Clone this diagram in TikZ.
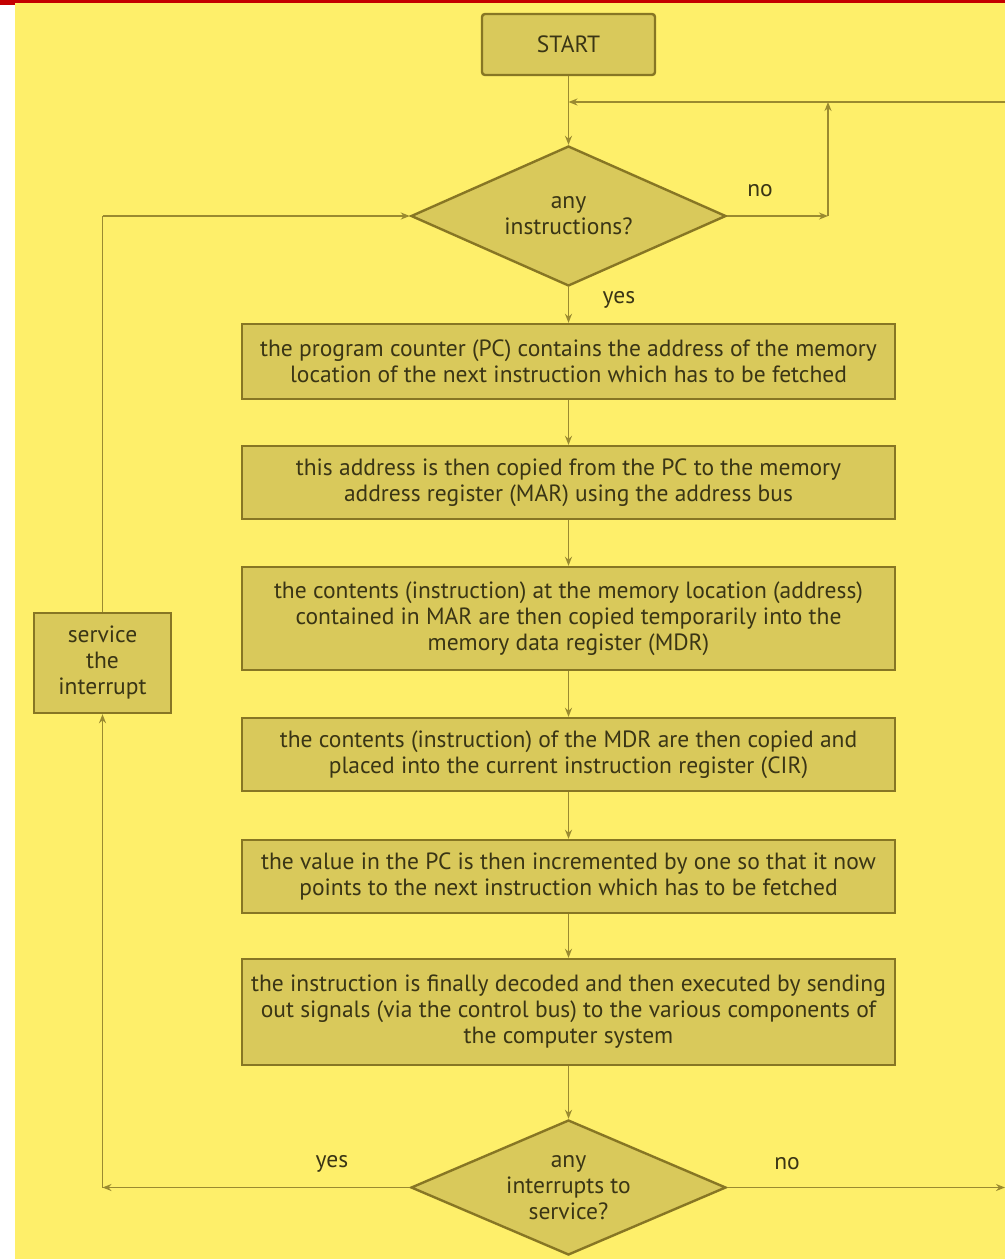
\documentclass[tikz,border=0pt]{standalone}
\usepackage{fontspec}
\setmainfont{PT Sans}
\usetikzlibrary{shapes.geometric,arrows.meta}

\definecolor{bgyellow}{HTML}{FEEF6A}
\definecolor{topred}{HTML}{C40000}
\definecolor{boxfill}{HTML}{D9C95B}
\definecolor{boxline}{HTML}{877624}
\definecolor{flowline}{HTML}{9A8A30}
\definecolor{ink}{HTML}{3A3515}

\tikzset{
  textfont/.style={text=ink, font=\fontsize{23.5}{26}\selectfont},
  stepbox/.style={draw=boxline, fill=boxfill, line width=2.4pt, rectangle,
    minimum width=653pt, inner sep=0pt, align=center, textfont},
  % the diamond itself is drawn empty at a fixed size; its question is a centred label
  decision/.style={draw=boxline, fill=boxfill, line width=2.4pt, diamond,
    minimum width=315pt, inner sep=0pt,
    label={[align=center, textfont, inner sep=0pt]center:#1}},
  flow/.style={draw=flowline, line width=1.6pt,
    -{Stealth[length=9pt,width=7pt]}},
  plainflow/.style={draw=flowline, line width=1.6pt},
  branchlabel/.style={textfont, inner sep=0pt}
}

\begin{document}
\begin{tikzpicture}[x=1pt,y=-1pt]
  % page and backdrop
  \useasboundingbox (0,0) rectangle (1005,1259);
  \fill[white] (0,0) rectangle (1005,1259);
  \fill[bgyellow] (15,3) rectangle (1005,1259);
  \fill[topred] (0,0) rectangle (1005,3);
  \fill[topred] (0,0) rectangle (15,4.5);

  % nodes
  \node[stepbox, minimum width=173pt, minimum height=61pt, rounded corners=3pt]
    (start) at (568.5,44.5) {START};
  \node[decision={any\\instructions?}, minimum height=140pt] (anyinstr) at (568.5,216) {};
  \node[stepbox, minimum height=75pt] (pc) at (568.5,361.5)
    {the program counter (PC) contains the address of the memory\\location of the next instruction which has to be fetched};
  \node[stepbox, minimum height=73pt] (mar) at (568.5,482.5)
    {this address is then copied from the PC to the memory\\address register (MAR) using the address bus};
  \node[stepbox, minimum height=103pt] (mdr) at (568.5,618.5)
    {the contents (instruction) at the memory location (address)\\contained in MAR are then copied temporarily into the\\memory data register (MDR)};
  \node[stepbox, minimum height=73pt] (cir) at (568.5,754.5)
    {the contents (instruction) of the MDR are then copied and\\placed into the current instruction register (CIR)};
  \node[stepbox, minimum height=73pt] (inc) at (568.5,876.5)
    {the value in the PC is then incremented by one so that it now\\points to the next instruction which has to be fetched};
  \node[stepbox, minimum height=106pt] (exec) at (568.5,1012)
    {the instruction is finally decoded and then executed by sending\\out signals (via the control bus) to the various components of\\the computer system};
  \node[decision={any\\interrupts to\\service?}, minimum height=135pt] (anyint) at (568.5,1187.5) {};
  \node[stepbox, minimum width=137pt, minimum height=100pt] (service) at (102.5,663)
    {service\\the\\interrupt};

  % helper points for the loops
  \coordinate (edgein) at (1005,102);
  \coordinate (merge) at (568.5,102);
  \coordinate (nocorner) at (828,216);
  \coordinate (nojoin) at (828,102);
  \coordinate (edgeout) at (1005,1187.5);
  \coordinate (yescorner) at (102.5,1187.5);
  \coordinate (svctop) at (102.5,216);

  % main spine
  \draw[plainflow] (start.south) -- (merge);
  \draw[flow] (merge) -- (anyinstr.north);
  \draw[flow] (edgein) -- (merge);
  \draw[flow] (anyinstr.south) -- (pc.north);
  \draw[flow] (pc.south) -- (mar.north);
  \draw[flow] (mar.south) -- (mdr.north);
  \draw[flow] (mdr.south) -- (cir.north);
  \draw[flow] (cir.south) -- (inc.north);
  \draw[flow] (inc.south) -- (exec.north);
  \draw[flow] (exec.south) -- (anyint.north);

  % no instructions: wait and check again
  \draw[flow] (anyinstr.east) -- (nocorner);
  \draw[flow] (nocorner) -- (nojoin);

  % interrupt handling
  \draw[flow] (anyint.east) -- (edgeout);
  \draw[flow] (anyint.west) -- (yescorner);
  \draw[flow] (yescorner) -- (service.south);
  \draw[plainflow] (service.north) -- (svctop);
  \draw[flow] (svctop) -- (anyinstr.west);

  % branch labels
  \node[branchlabel] (noA) at (760,191) {no};
  \node[branchlabel] (yesA) at (619,300) {yes};
  \node[branchlabel] (yesB) at (332,1164) {yes};
  \node[branchlabel] (noB) at (787,1164) {no};
\end{tikzpicture}
\end{document}
